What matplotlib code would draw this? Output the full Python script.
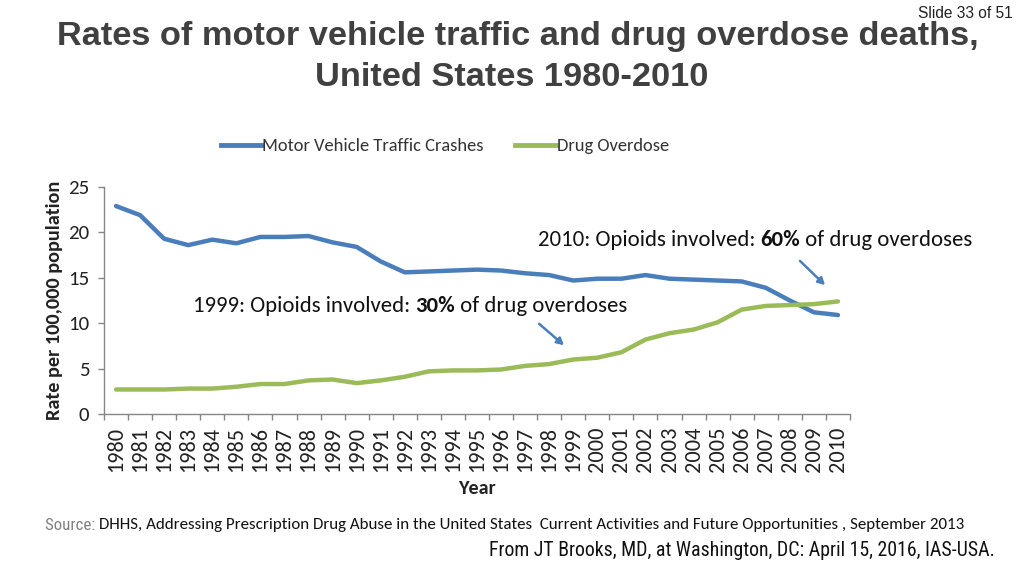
import matplotlib
matplotlib.use("Agg")
import matplotlib.pyplot as plt
from matplotlib import font_manager as fm
from matplotlib.lines import Line2D

years = list(range(1980, 2011))
motor_vehicle = [22.9, 21.9, 19.3, 18.6, 19.2, 18.8, 19.5, 19.5, 19.6, 18.9,
                 18.4, 16.8, 15.6, 15.7, 15.8, 15.9, 15.8, 15.5, 15.3, 14.7,
                 14.9, 14.9, 15.3, 14.9, 14.8, 14.7, 14.6, 13.9, 12.5, 11.2, 10.9]
drug_overdose = [2.7, 2.7, 2.7, 2.8, 2.8, 3.0, 3.3, 3.3, 3.7, 3.8,
                 3.4, 3.7, 4.1, 4.7, 4.8, 4.8, 4.9, 5.3, 5.5, 6.0,
                 6.2, 6.8, 8.2, 8.9, 9.3, 10.1, 11.5, 11.9, 12.0, 12.1, 12.4]
y_ticks = [0, 5, 10, 15, 20, 25]

available = {f.name for f in fm.fontManager.ttflist}
def pick(*names):
    for n in names:
        if n in available:
            return n
    return "DejaVu Sans"

BODY = pick("Carlito", "Calibri", "Lato", "Open Sans")
NARROW = pick("Liberation Sans Narrow", "Arial Narrow", "Roboto Condensed", "Liberation Sans")
ARIAL = pick("Liberation Sans", "Arial", "DejaVu Sans")

BLUE = "#4A7EBB"
GREEN = "#9BBB59"
W, H = 1024, 576
fig = plt.figure(figsize=(W / 100, H / 100), dpi=100)

def fx(px):
    return px / W
def fy(py):
    return 1 - py / H

ax = fig.add_axes([fx(104), fy(414), fx(850) - fx(104), fy(187) - fy(414)])
x = list(range(len(years)))
ax.plot(x, motor_vehicle, color=BLUE, lw=3.2, solid_capstyle="round")
ax.plot(x, drug_overdose, color=GREEN, lw=3.2, solid_capstyle="round")
ax.set_xlim(-0.5, len(years) - 0.5)
ax.set_ylim(0, 25)
ax.set_yticks(y_ticks)
ax.set_yticklabels([str(t) for t in y_ticks], fontfamily=BODY, fontsize=15, color="#222222")
ax.set_xticks(x)
ax.set_xticklabels([str(y) for y in years], rotation=90, fontfamily=BODY,
                   fontsize=16, color="#222222")
ax.tick_params(axis="x", which="major", length=0, pad=9)
ax.set_xticks([i - 0.5 for i in range(len(years) + 1)], minor=True)
ax.tick_params(axis="x", which="minor", length=4.5, color="#868686", width=1)
ax.tick_params(axis="y", length=4.5, color="#868686", width=1, pad=6)
for s in ["top", "right"]:
    ax.spines[s].set_visible(False)
for s in ["left", "bottom"]:
    ax.spines[s].set_color("#868686")
    ax.spines[s].set_linewidth(1)
ax.set_ylabel("Rate per 100,000 population", fontfamily=BODY, fontsize=14.6,
              fontweight="bold", color="#222222", labelpad=4)
ax.set_xlabel("Year", fontfamily=BODY, fontsize=14.5, fontweight="bold",
              color="#222222", labelpad=6)

handles = [Line2D([], [], color=BLUE, lw=3.5), Line2D([], [], color=GREEN, lw=3.5)]
fig.legend(handles, ["Motor Vehicle Traffic Crashes", "Drug Overdose"],
           loc="center", bbox_to_anchor=(fx(445), fy(146)), ncol=2, frameon=False,
           prop={"family": BODY, "size": 13.3}, handlelength=2.2, handletextpad=0.05,
           columnspacing=1.7, labelcolor="#333333")

fig.canvas.draw()
renderer = fig.canvas.get_renderer()

def fitted(px, py, s, width, ha, **kw):
    t = fig.text(fx(px), fy(py), s, ha=ha, va="center", fontsize=20, **kw)
    w = t.get_window_extent(renderer).width
    t.set_fontsize(20 * width / w)
    return t

t1 = fitted(518, 37, "Rates of motor vehicle traffic and drug overdose deaths,", 923,
            "center", fontfamily=ARIAL, fontweight="bold", color="#404040")
fig.text(fx(512), fy(77), "United States 1980-2010", ha="center", va="center",
         fontfamily=ARIAL, fontweight="bold", fontsize=t1.get_fontsize(), color="#404040")
fitted(1013, 13, "Slide 33 of 51", 95, "right", fontfamily=ARIAL, color="#222222")

def rich(px, py, parts, size):
    cur = px
    for txt, weight, color, fam in parts:
        t = fig.text(fx(cur), fy(py), txt, ha="left", va="center", fontfamily=fam,
                     fontweight=weight, fontsize=size, color=color)
        bb = t.get_window_extent(renderer)
        cur += bb.width

rich(538, 240, [("2010: Opioids involved: ", "normal", "#111111", BODY),
                ("60%", "bold", "#111111", BODY),
                (" of drug overdoses", "normal", "#111111", BODY)], 16.4)
rich(193, 306, [("1999: Opioids involved: ", "normal", "#111111", BODY),
                ("30%", "bold", "#111111", BODY),
                (" of drug overdoses", "normal", "#111111", BODY)], 16.4)

for (x0, y0, x1, y1) in [(537, 322, 566, 347), (798, 259, 827, 287)]:
    fig.add_artist(matplotlib.patches.FancyArrowPatch(
        (fx(x0), fy(y0)), (fx(x1), fy(y1)), transform=fig.transFigure,
        arrowstyle="-|>,head_length=4,head_width=2.2", color=BLUE, lw=1.8))

rich(45, 525, [("Source: ", "normal", "#808080", NARROW),
               ("DHHS, Addressing Prescription Drug Abuse in the United States  Current Activities and Future Opportunities , September 2013",
                "normal", "#111111", BODY)], 12.2)
fig.text(fx(995), fy(550), "From JT Brooks, MD, at Washington, DC: April 15, 2016, IAS-USA.",
         ha="right", va="center", fontfamily=NARROW, fontsize=14.3, color="#111111")

fig.savefig("out.png", dpi=100)
